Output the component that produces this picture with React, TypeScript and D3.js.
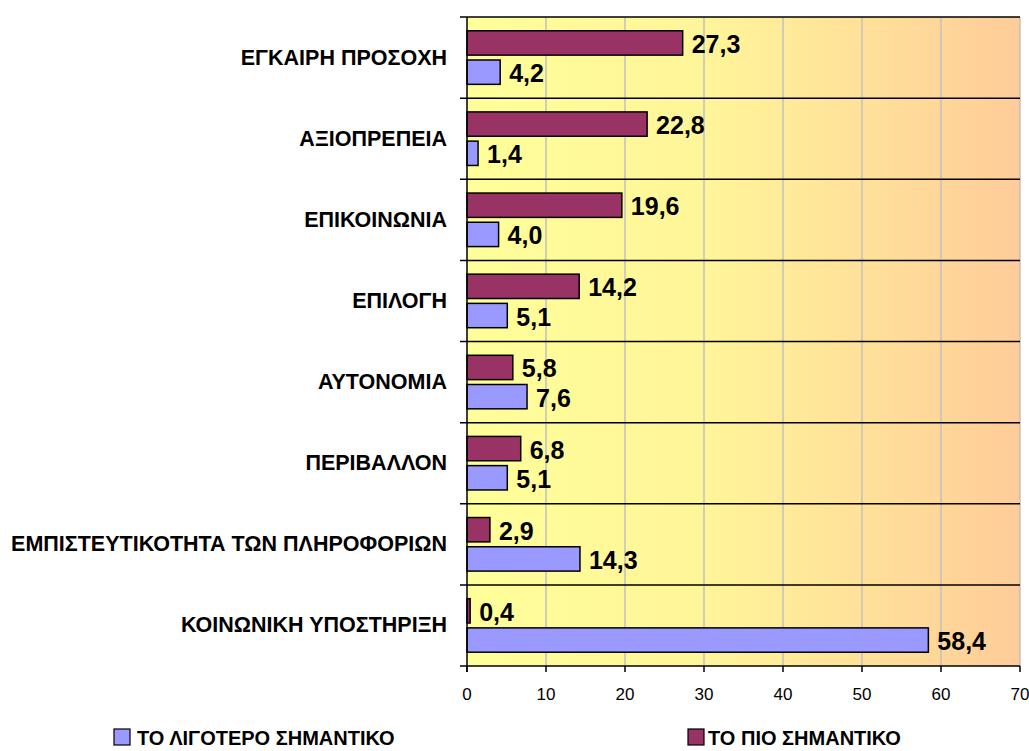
import React from 'react';
import * as d3 from 'd3';

const categories = [
  'ΕΓΚΑΙΡΗ ΠΡΟΣΟΧΗ',
  'ΑΞΙΟΠΡΕΠΕΙΑ',
  'ΕΠΙΚΟΙΝΩΝΙΑ',
  'ΕΠΙΛΟΓΗ',
  'ΑΥΤΟΝΟΜΙΑ',
  'ΠΕΡΙΒΑΛΛΟΝ',
  'ΕΜΠΙΣΤΕΥΤΙΚΟΤΗΤΑ ΤΩΝ ΠΛΗΡΟΦΟΡΙΩΝ',
  'ΚΟΙΝΩΝΙΚΗ ΥΠΟΣΤΗΡΙΞΗ',
];
const mostImportant = [27.3, 22.8, 19.6, 14.2, 5.8, 6.8, 2.9, 0.4];
const leastImportant = [4.2, 1.4, 4.0, 5.1, 7.6, 5.1, 14.3, 58.4];
const xTicks = [0, 10, 20, 30, 40, 50, 60, 70];
const seriesNames = ['ΤΟ ΛΙΓΟΤΕΡΟ ΣΗΜΑΝΤΙΚΟ', 'ΤΟ ΠΙΟ ΣΗΜΑΝΤΙΚΟ'];

const W = 1029;
const H = 751;
const FONT = '"Liberation Sans", Arial, sans-serif';
const MAROON = '#993366';
const BLUE = '#9999FF';

const greek = d3.formatLocale({ decimal: ',', thousands: '.', grouping: [3], currency: ['', '€'] });
const fmt = greek.format('.1f');

export default function App() {
  const x = d3.scaleLinear().domain([0, 70]).range([467, 1020]);
  const y = d3.scaleBand<string>().domain(categories).range([17, 666]).padding(0);
  const bw = y.bandwidth();
  const barH = bw * 0.3;
  const [x0, x1] = x.range();
  const [y0, y1] = y.range();

  const bars = (vals: number[], offset: number, color: string, key: string) =>
    vals.map((v, i) => {
      const by = (y(categories[i]) as number) + bw * offset;
      return (
        <g key={key + i}>
          <rect x={x0} y={by} width={x(v) - x0} height={barH} fill={color} stroke="#000" strokeWidth={1.5} />
          <text
            x={x(v) + 9}
            y={by + barH / 2 + 1}
            dominantBaseline="central"
            fontFamily={FONT}
            fontWeight="bold"
            fontSize={25}
          >
            {fmt(v)}
          </text>
        </g>
      );
    });

  return (
    <svg width={W} height={H} style={{ position: 'absolute', left: 0, top: 0, background: '#fff' }}>
      <defs>
        <linearGradient id="bg" x1="0" x2="1" y1="0" y2="0">
          <stop offset="0" stopColor="#FFFF99" />
          <stop offset="0.45" stopColor="#FFF499" />
          <stop offset="1" stopColor="#FFCC99" />
        </linearGradient>
      </defs>
      <rect x={x0} y={y0} width={x1 - x0} height={y1 - y0} fill="url(#bg)" />

      {xTicks.slice(1).map((t) => (
        <line key={'g' + t} x1={x(t)} x2={x(t)} y1={y0} y2={y1} stroke="#C0C0C0" strokeWidth={1.5} />
      ))}

      {[...categories.map((c) => y(c) as number), y1].map((yy, i) => (
        <line key={'h' + i} x1={x0 - 7} x2={i === categories.length ? x0 : x1} y1={yy} y2={yy} stroke="#000" strokeWidth={1.5} />
      ))}

      {bars(mostImportant, 0.17, MAROON, 'm')}
      {bars(leastImportant, 0.53, BLUE, 'l')}

      <line x1={x0} x2={x1} y1={y1} y2={y1} stroke="#000" strokeWidth={1.5} />
      <line x1={x0} x2={x0} y1={y0} y2={y1 + 6} stroke="#000" strokeWidth={1.5} />
      {xTicks.map((t) => (
        <g key={'t' + t}>
          <line x1={x(t)} x2={x(t)} y1={y1} y2={y1 + 6} stroke="#000" strokeWidth={1.5} />
          <text x={x(t)} y={700} textAnchor="middle" fontFamily={FONT} fontSize={17}>
            {t}
          </text>
        </g>
      ))}

      {categories.map((c) => (
        <text
          key={c}
          x={447}
          y={(y(c) as number) + bw / 2}
          dominantBaseline="central"
          textAnchor="end"
          fontFamily={FONT}
          fontWeight="bold"
          fontSize={21.5}
        >
          {c}
        </text>
      ))}

      <g>
        <rect x={114} y={729} width={16} height={16} fill={BLUE} stroke="#000" strokeWidth={1.2} />
        <text x={137} y={745} fontFamily={FONT} fontWeight="bold" fontSize={20}>
          {seriesNames[0]}
        </text>
        <rect x={688} y={729} width={16} height={16} fill={MAROON} stroke="#000" strokeWidth={1.2} />
        <text x={708} y={745} fontFamily={FONT} fontWeight="bold" fontSize={20}>
          {seriesNames[1]}
        </text>
      </g>
    </svg>
  );
}
